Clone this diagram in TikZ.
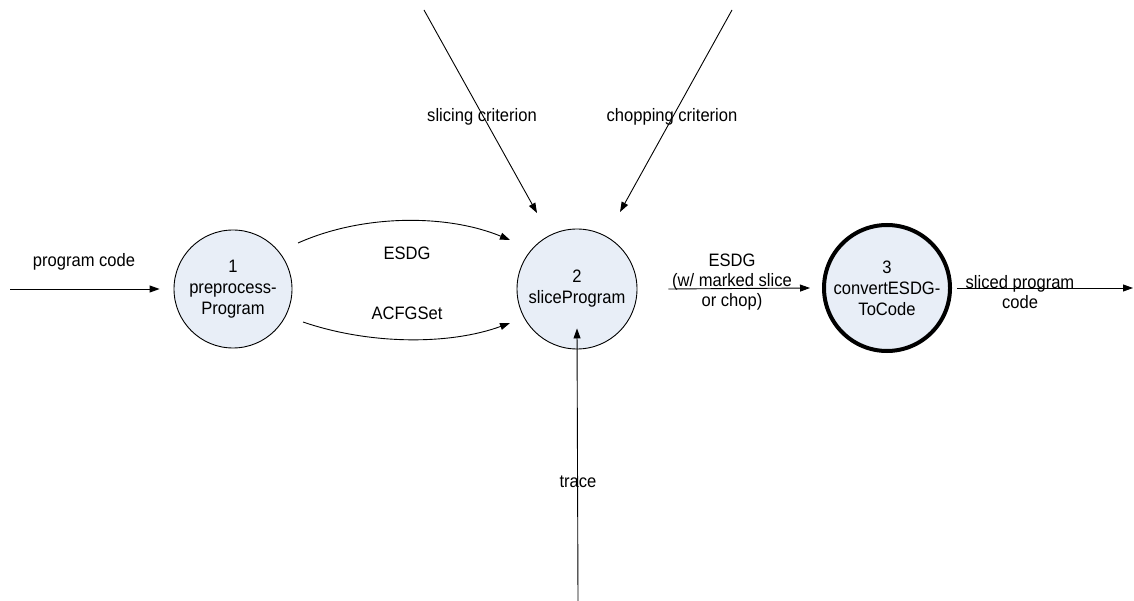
\documentclass[tikz,border=0pt]{standalone}
\usepackage{fontspec}
\setmainfont{Liberation Sans}[FakeStretch=0.92]
\usetikzlibrary{calc,arrows.meta}
\definecolor{procfill}{RGB}{232,238,247}
\tikzset{
  proc/.style={circle,draw=black,line width=0.9pt,fill=procfill,minimum size=118pt,inner sep=0pt,align=center,font=\fontsize{18}{21}\selectfont},
  procthick/.style={proc,line width=4pt,minimum size=126pt},
  flow/.style={draw=black,line width=0.9pt,-{Triangle[length=10pt,width=7pt]}},
  lbl/.style={align=center,inner sep=0pt,font=\fontsize{18}{20}\selectfont}
}
\begin{document}
\begin{tikzpicture}[x=1pt,y=-1pt]
\useasboundingbox (0,0) rectangle (1134,601);
\node[proc] (c1) at (233,289) {1\\preprocess-\\Program};
\node[proc,minimum size=120pt] (c2) at (577,289) {2\\sliceProgram};
\node[procthick] (c3) at (887,288) {3\\convertESDG-\\ToCode};
\coordinate (pin) at (10,289);
\coordinate (pout) at (1133,288);
\coordinate (scin) at (424,10);
\coordinate (ccin) at (732,10);
\coordinate (trin) at (578,601);
% program code
\draw[flow] (pin) -- ([xshift=-14]c1.west);
\node[lbl] (lpc) at (84,262) {program code};
% ESDG curve
\draw[flow] ($(c1)+(65,-46)$) .. controls ($(c1)+(130,-75)$) and ($(c2)+(-130,-75)$) .. ($(c2)+(-67,-49)$);
\node[lbl] (lesdg) at (407,253) {ESDG};
% ACFGSet curve
\draw[flow] ($(c1)+(70,33)$) .. controls ($(c1)+(137,56)$) and ($(c2)+(-127,56)$) .. ($(c2)+(-67,34)$);
\node[lbl] (lacfg) at (407,313) {ACFGSet};
% slicing criterion
\draw[flow] (scin) -- ($(c2)+(-40,-76)$);
\node[lbl] (lsc) at (482,117) {slicing criterion};
% chopping criterion
\draw[flow] (ccin) -- ($(c2)+(43,-77)$);
\node[lbl] (lcc) at (672,117) {chopping criterion};
% trace
\draw[flow] (trin) -- ([yshift=21]c2.south);
\node[lbl] (ltr) at (578,482) {trace};
% ESDG out
\draw[flow] ([xshift=31]c2.east) -- ([xshift=-12]c3.west);
\node[lbl] (lesdg2) at (732,282) {ESDG\\(w/ marked slice\\or chop)};
% sliced program code
\draw[flow] ([xshift=5]c3.east) -- (pout);
\node[lbl] (lspc) at (1020,292) {sliced program\\code};
\end{tikzpicture}
\end{document}
